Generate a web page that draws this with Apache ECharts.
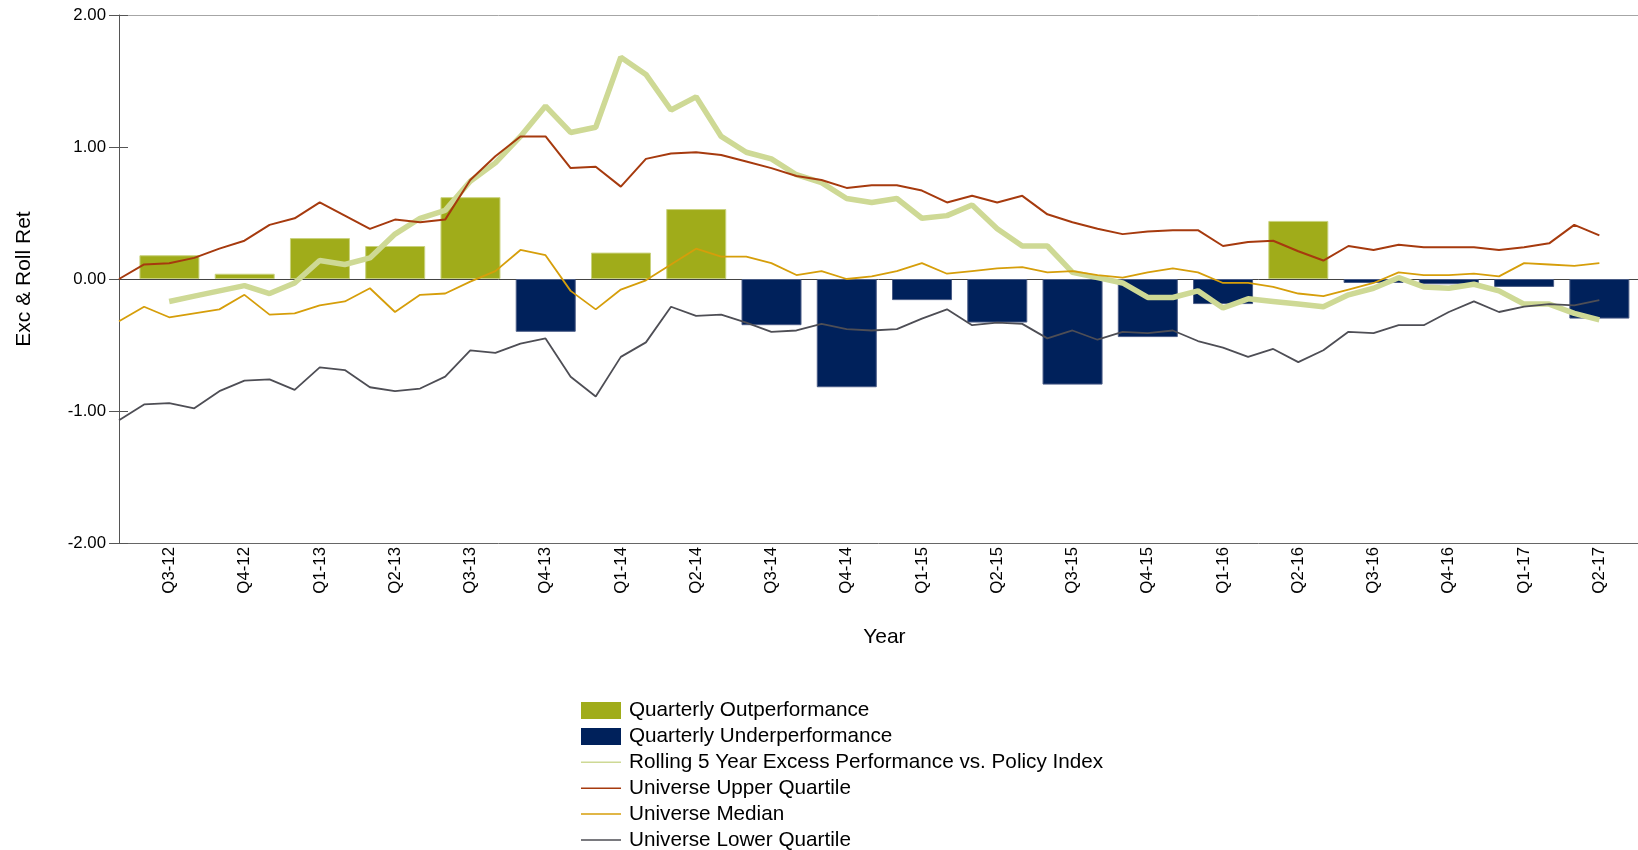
<!DOCTYPE html>
<html>
<head>
<meta charset="utf-8">
<script src="https://cdn.jsdelivr.net/npm/echarts@6/dist/echarts.min.js"></script>
<style>
  html, body { margin: 0; padding: 0; background: #ffffff; }
  #chart { width: 1638px; height: 850px; }
</style>
</head>
<body>
<div id="chart"></div>
<script>
// ---- Data ----
const categories = ['Q3-12','Q4-12','Q1-13','Q2-13','Q3-13','Q4-13','Q1-14','Q2-14','Q3-14','Q4-14',
                    'Q1-15','Q2-15','Q3-15','Q4-15','Q1-16','Q2-16','Q3-16','Q4-16','Q1-17','Q2-17'];

const quarterlyExcess = [0.18, 0.04, 0.31, 0.25, 0.62, -0.40, 0.20, 0.53, -0.35, -0.82,
                         -0.16, -0.33, -0.80, -0.44, -0.19, 0.44, -0.03, -0.04, -0.06, -0.30];

// monthly points, month 0 .. 59 (month 2 = centre of Q3-12, month 59 = centre of Q2-17)
const upperQuartile = [0.00,0.11,0.12,0.16,0.23,0.29,0.41,0.46,0.58,0.48,
                       0.38,0.45,0.43,0.45,0.75,0.93,1.08,1.08,0.84,0.85,
                       0.70,0.91,0.95,0.96,0.94,0.89,0.84,0.78,0.75,0.69,
                       0.71,0.71,0.67,0.58,0.63,0.58,0.63,0.49,0.43,0.38,
                       0.34,0.36,0.37,0.37,0.25,0.28,0.29,0.21,0.14,0.25,
                       0.22,0.26,0.24,0.24,0.24,0.22,0.24,0.27,0.41,0.33];

const median = [-0.32,-0.21,-0.29,-0.26,-0.23,-0.12,-0.27,-0.26,-0.20,-0.17,
                -0.07,-0.25,-0.12,-0.11,-0.02,0.06,0.22,0.18,-0.09,-0.23,
                -0.08,-0.01,0.11,0.23,0.17,0.17,0.12,0.03,0.06,0.00,
                0.02,0.06,0.12,0.04,0.06,0.08,0.09,0.05,0.06,0.03,
                0.01,0.05,0.08,0.05,-0.03,-0.03,-0.06,-0.11,-0.13,-0.08,
                -0.03,0.05,0.03,0.03,0.04,0.02,0.12,0.11,0.10,0.12];

const lowerQuartile = [-1.07,-0.95,-0.94,-0.98,-0.85,-0.77,-0.76,-0.84,-0.67,-0.69,
                       -0.82,-0.85,-0.83,-0.74,-0.54,-0.56,-0.49,-0.45,-0.74,-0.89,
                       -0.59,-0.48,-0.21,-0.28,-0.27,-0.33,-0.40,-0.39,-0.34,-0.38,
                       -0.39,-0.38,-0.30,-0.23,-0.35,-0.33,-0.34,-0.45,-0.39,-0.46,
                       -0.40,-0.41,-0.39,-0.47,-0.52,-0.59,-0.53,-0.63,-0.54,-0.40,
                       -0.41,-0.35,-0.35,-0.25,-0.17,-0.25,-0.21,-0.19,-0.20,-0.16];

// rolling 5-year excess starts at month 2 (Q3-12)
const rollingStartMonth = 2;
const rolling5Year = [-0.17,-0.13,-0.09,-0.05,-0.11,-0.03,0.14,0.11,0.16,0.34,
                      0.46,0.52,0.74,0.88,1.08,1.31,1.11,1.15,1.68,1.55,
                      1.28,1.38,1.08,0.96,0.91,0.79,0.73,0.61,0.58,0.61,
                      0.46,0.48,0.56,0.38,0.25,0.25,0.05,0.01,-0.03,-0.14,
                      -0.14,-0.09,-0.22,-0.15,-0.17,-0.19,-0.21,-0.12,-0.07,0.01,
                      -0.06,-0.07,-0.04,-0.09,-0.19,-0.19,-0.26,-0.31];

// ---- Build series data ----
const outData = quarterlyExcess.map(v => v >= 0 ? v : '-');
const underData = quarterlyExcess.map(v => v < 0 ? v : '-');
const monthly = arr => arr.map((v, i) => [i, v]);
const rollingData = rolling5Year.map((v, i) => [i + rollingStartMonth, v]);

const FONT = '"Liberation Sans", Arial, "DejaVu Sans", sans-serif';
const C = {
  out: '#A0AC1A', under: '#00215B', rolling: '#CED995',
  upper: '#A63A0E', median: '#D69E0A', lower: '#4E4E55'
};
const LINE_ICON = 'path://M0,0H80V3H0Z';

const chart = echarts.init(document.getElementById('chart'), null, { renderer: 'canvas' });

const option = {
  animation: false,
  backgroundColor: '#ffffff',
  textStyle: { fontFamily: FONT },
  grid: [
    { left: 119, right: 0, top: 15, bottom: 307, containLabel: false },
    { left: 131.8, right: 1, top: 15, bottom: 307, containLabel: false }
  ],
  xAxis: [
    { // lines (monthly positions)
      type: 'value', gridIndex: 0, min: 0, max: 60.54, position: 'bottom',
      axisLine: { show: true, onZero: false, lineStyle: { color: '#666666', width: 1 } },
      axisTick: { show: false }, axisLabel: { show: false }, splitLine: { show: false }
    },
    { // top border
      type: 'value', gridIndex: 0, min: 0, max: 60.54, position: 'top',
      axisLine: { show: true, onZero: false, lineStyle: { color: '#a6a6a6', width: 1 } },
      axisTick: { show: false }, axisLabel: { show: false }, splitLine: { show: false }
    },
    { // quarterly categories
      type: 'category', gridIndex: 1, data: categories, boundaryGap: true, position: 'bottom',
      axisLine: { show: false, onZero: false }, axisTick: { show: false }, splitLine: { show: false },
      axisLabel: { rotate: 90, fontSize: 16.8, color: '#000', margin: 4, fontFamily: FONT, interval: 0 },
      name: 'Year', nameLocation: 'middle', nameGap: 84,
      nameTextStyle: { fontSize: 21, color: '#000', fontFamily: FONT }
    }
  ],
  yAxis: [
    {
      type: 'value', gridIndex: 0, min: -2, max: 2, interval: 1,
      axisLine: { show: true, lineStyle: { color: '#555555', width: 1 } },
      axisTick: { show: true, length: 10, lineStyle: { color: '#555555' } },
      axisLabel: { fontSize: 16.8, color: '#000', margin: 13, fontFamily: FONT,
                   formatter: v => v.toFixed(2) },
      splitLine: { show: false },
      name: 'Exc & Roll Ret', nameLocation: 'middle', nameGap: 84, nameRotate: 90,
      nameTextStyle: { fontSize: 21, color: '#000', fontFamily: FONT }
    },
    {
      type: 'value', gridIndex: 0, min: -2, max: 2, interval: 1, position: 'left',
      axisLine: { show: false },
      axisTick: { show: true, inside: true, length: 9, lineStyle: { color: '#555555' } },
      axisLabel: { show: false }, splitLine: { show: false }
    },
    {
      type: 'value', gridIndex: 1, min: -2, max: 2, interval: 1, show: false
    }
  ],
  legend: {
    orient: 'vertical', left: 581, top: 700, height: 160, padding: 0,
    itemWidth: 40, itemHeight: 17, itemGap: 4.9,
    itemStyle: { borderWidth: 0 },
    textStyle: { fontSize: 20.7, color: '#000', fontFamily: FONT, lineHeight: 20, padding: [0, 0, 0, 3] },
    data: [
      { name: 'Quarterly Outperformance', icon: 'rect' },
      { name: 'Quarterly Underperformance', icon: 'rect' },
      { name: 'Rolling 5 Year Excess Performance vs. Policy Index', icon: LINE_ICON },
      { name: 'Universe Upper Quartile', icon: LINE_ICON },
      { name: 'Universe Median', icon: LINE_ICON },
      { name: 'Universe Lower Quartile', icon: LINE_ICON }
    ]
  },
  series: [
    {
      name: 'Quarterly Outperformance', type: 'bar', xAxisIndex: 2, yAxisIndex: 2,
      data: outData, barWidth: 60, barGap: '-100%',
      itemStyle: { color: C.out, borderColor: '#C9D27E', borderWidth: 1 }, z: 2
    },
    {
      name: 'Quarterly Underperformance', type: 'bar', xAxisIndex: 2, yAxisIndex: 2,
      data: underData, barWidth: 60, barGap: '-100%',
      itemStyle: { color: C.under, borderColor: '#4A5C86', borderWidth: 1 }, z: 2
    },
    {
      name: 'Rolling 5 Year Excess Performance vs. Policy Index', type: 'line',
      xAxisIndex: 0, yAxisIndex: 0, data: rollingData, symbol: 'none',
      lineStyle: { color: C.rolling, width: 5.5 }, itemStyle: { color: C.rolling }, z: 3,
      markLine: {
        silent: true, symbol: ['none', 'none'], label: { show: false },
        lineStyle: { color: '#444444', width: 1, type: 'solid' },
        data: [{ yAxis: 0 }], z: 1
      }
    },
    {
      name: 'Universe Upper Quartile', type: 'line', xAxisIndex: 0, yAxisIndex: 0,
      data: monthly(upperQuartile), symbol: 'none',
      lineStyle: { color: C.upper, width: 2 }, itemStyle: { color: C.upper }, z: 4
    },
    {
      name: 'Universe Median', type: 'line', xAxisIndex: 0, yAxisIndex: 0,
      data: monthly(median), symbol: 'none',
      lineStyle: { color: C.median, width: 1.8 }, itemStyle: { color: C.median }, z: 4
    },
    {
      name: 'Universe Lower Quartile', type: 'line', xAxisIndex: 0, yAxisIndex: 0,
      data: monthly(lowerQuartile), symbol: 'none',
      lineStyle: { color: C.lower, width: 1.8 }, itemStyle: { color: C.lower }, z: 4
    }
  ]
};

chart.setOption(option);
</script>
</body>
</html>
